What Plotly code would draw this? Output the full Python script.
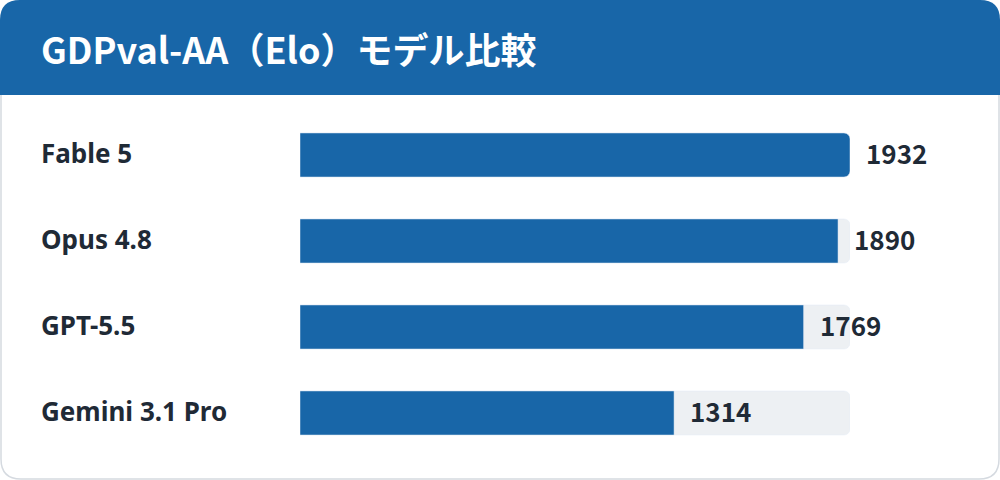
import plotly.graph_objects as go

models = ["Fable 5", "Opus 4.8", "GPT-5.5", "Gemini 3.1 Pro"]
elo = [1932, 1890, 1769, 1314]
title = "GDPval-AA（Elo）モデル比較"

W, H = 1000, 480
blue = "#1866a8"
track = "#edf0f3"
ink = "#1f2a36"
cjk = "Noto Sans CJK JP"
sans = "Noto Sans"

def px(x, y):
    return x / W, 1 - y / H

def pt(x, y):
    a, b = px(x, y)
    return f"{a},{b}"

rows = list(range(len(models)))
top = max(elo)

fig = go.Figure()
fig.add_trace(go.Bar(x=[top] * len(models), y=rows, orientation="h", width=0.512,
                     marker=dict(color=track, cornerradius=6), hoverinfo="skip"))
fig.add_trace(go.Bar(x=elo, y=rows, orientation="h", width=0.512,
                     marker=dict(color=blue, cornerradius=6)))

# header band and card outline (pixel coords -> paper)
r = 20
hb = 95
header = (f"M {pt(0,hb)} L {pt(0,r)} Q {pt(0,0)} {pt(r,0)} "
          f"L {pt(W-r,0)} Q {pt(W,0)} {pt(W,r)} L {pt(W,hb)} Z")
a, b, c, d = 1, 1, W - 1, H - 1
card = (f"M {pt(a,b+r)} Q {pt(a,b)} {pt(a+r,b)} L {pt(c-r,b)} Q {pt(c,b)} {pt(c,b+r)} "
        f"L {pt(c,d-r)} Q {pt(c,d)} {pt(c-r,d)} L {pt(a+r,d)} Q {pt(a,d)} {pt(a,d-r)} Z")

fig.add_shape(type="path", path=card, xref="paper", yref="paper",
              line=dict(color="#d5dae0", width=1.5), fillcolor="white", layer="below")
fig.add_shape(type="path", path=header, xref="paper", yref="paper",
              line=dict(width=0), fillcolor=blue, layer="below")

fig.add_annotation(x=0.039, y=1 - 48 / H, xref="paper", yref="paper", text=title,
                   showarrow=False, xanchor="left", yanchor="middle",
                   font=dict(family=cjk, size=36, color="white", weight=700))

for i, (m, v) in enumerate(zip(models, elo)):
    fig.add_annotation(x=0.039, y=i, xref="paper", yref="y", text=m, showarrow=False,
                       xanchor="left", yanchor="middle", yshift=2,
                       font=dict(family=sans, size=26, color=ink, weight=700))
    fig.add_annotation(x=v, y=i, xref="x", yref="y", text=str(v), showarrow=False,
                       xanchor="left", yanchor="middle", xshift=14, yshift=3,
                       font=dict(family=cjk, size=26, color=ink, weight=700))

fig.update_layout(
    width=W, height=H, margin=dict(l=0, r=0, t=0, b=0),
    paper_bgcolor="white", plot_bgcolor="rgba(0,0,0,0)",
    barmode="overlay", showlegend=False,
    xaxis=dict(domain=[0.3, 0.85], range=[0, top], visible=False, fixedrange=True),
    yaxis=dict(domain=[0, 1], range=[(H - 155) / 86, -155 / 86], visible=False, fixedrange=True),
)

fig.write_html("out.html", config={"displayModeBar": False},
               post_script="document.body.style.margin='0';")
